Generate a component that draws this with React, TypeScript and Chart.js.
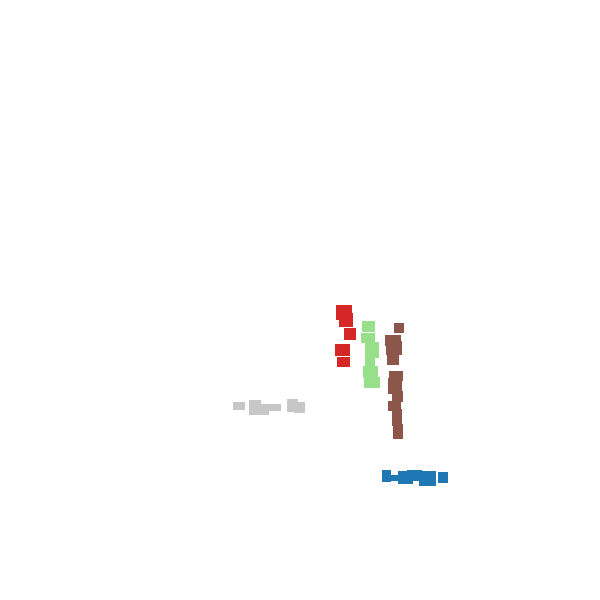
import { useEffect, useRef } from "react";
import { Chart, registerables } from "chart.js";

Chart.register(...registerables);

// groups: x, y (screen units, y down), w, h of each mark
const redX = [345, 347, 351, 343, 344];
const redY = [313, 320, 335, 351, 363];
const redW = [16, 14, 12, 15, 13];
const redH = [15, 14, 12, 12, 10];

const greenX = [370, 369, 373, 371, 372, 373];
const greenY = [327, 339, 351, 363, 373, 384];
const greenW = [13, 14, 14, 10, 15, 16];
const greenH = [11, 10, 16, 8, 12, 11];

const brownX = [401, 395, 396, 395, 398, 397, 399, 396, 399, 400];
const brownY = [328, 341, 349, 361, 377, 387, 398, 408, 419, 434];
const brownW = [10, 16, 16, 12, 14, 14, 11, 13, 10, 10];
const brownH = [10, 11, 14, 10, 10, 16, 11, 10, 17, 15];

const greyX = [238, 254, 258, 270, 292, 299];
const greyY = [408, 409, 411, 409, 407, 409];
const greyW = [12, 12, 20, 20, 11, 11];
const greyH = [8, 15, 11, 7, 13, 11];

const blueX = [388, 396, 407, 416, 430, 445];
const blueY = [479, 481, 481, 478, 482, 481];
const blueW = [9, 7, 15, 15, 17, 10];
const blueH = [12, 6, 13, 11, 15, 11];

function rectImg(w: number, h: number, color: string) {
  const c = document.createElement("canvas");
  c.width = w;
  c.height = h;
  const ctx = c.getContext("2d")!;
  ctx.fillStyle = color;
  ctx.fillRect(0, 0, w, h);
  return c;
}

function series(xs: number[], ys: number[], ws: number[], hs: number[], color: string) {
  return {
    data: xs.map((x, i) => ({ x, y: ys[i] })),
    pointStyle: xs.map((_, i) => rectImg(ws[i], hs[i], color)),
    backgroundColor: color,
    borderColor: color,
  };
}

export default function App() {
  const canvasRef = useRef<HTMLCanvasElement>(null);

  useEffect(() => {
    if (!canvasRef.current) return;
    const chart = new Chart(canvasRef.current, {
      type: "scatter",
      data: {
        datasets: [
          series(greyX, greyY, greyW, greyH, "#c7c7c7"),
          series(redX, redY, redW, redH, "#d62728"),
          series(greenX, greenY, greenW, greenH, "#98df8a"),
          series(brownX, brownY, brownW, brownH, "#8c564b"),
          series(blueX, blueY, blueW, blueH, "#1f77b4"),
        ] as any,
      },
      options: {
        animation: false,
        responsive: false,
        devicePixelRatio: 1,
        layout: { padding: 0 },
        plugins: { legend: { display: false }, tooltip: { enabled: false } },
        scales: {
          x: { type: "linear", min: 0, max: 600, display: false },
          y: { type: "linear", min: 0, max: 600, reverse: true, display: false },
        },
      },
    });
    return () => chart.destroy();
  }, []);

  return (
    <div style={{ position: "fixed", left: 0, top: 0, width: 600, height: 600, background: "#fff" }}>
      <canvas ref={canvasRef} width={600} height={600} />
    </div>
  );
}
